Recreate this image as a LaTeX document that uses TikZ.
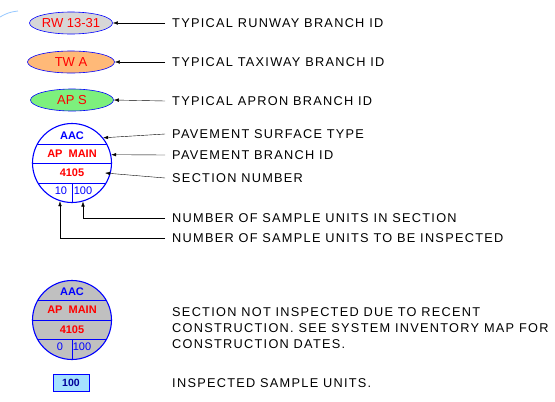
\documentclass[tikz,border=0pt]{standalone}
\usepackage{fontspec}
\setmainfont{Liberation Sans}
\newfontfamily\cadfont[LetterSpace=10]{Liberation Sans}
\usetikzlibrary{arrows.meta,shapes.geometric}
\definecolor{rwgray}{RGB}{215,215,215}
\definecolor{tworange}{RGB}{255,185,120}
\definecolor{apgreen}{RGB}{125,240,125}
\definecolor{secgray}{RGB}{192,192,192}
\definecolor{boxblue}{RGB}{165,225,255}
\definecolor{arcblue}{RGB}{150,200,255}

\begin{document}
\begin{tikzpicture}[x=1pt, y=-1pt, >={Latex[length=5pt,width=3.5pt]},
	br/.style={draw=blue, semithick, ellipse, minimum width=83pt, minimum height=22pt, inner sep=0pt, text=red, font=\fontsize{13}{14}\selectfont},
	lbl/.style={anchor=west, inner xsep=7pt, inner ysep=0pt, align=left, font=\cadfont\fontsize{12.75}{16}\selectfont},
	sec/.style={draw=blue, line width=1.1pt, circle, minimum size=79pt, inner sep=0pt},
	cell/.style={inner sep=0pt, font=\bfseries\fontsize{11}{12}\selectfont},
	unit/.style={inner sep=0pt, text=blue, font=\fontsize{11}{12}\selectfont}]
	\useasboundingbox (0,0) rectangle (555,402);
	\draw[arcblue, line width=0.8pt] (0,17) to[bend left=12] (18,11);
	% branch ids
	\node[br, fill=rwgray] (rw) at (71,23) {RW 13-31};
	\node[br, fill=tworange, minimum width=87pt] (tw) at (71,62) {TW A};
	\node[br, fill=apgreen] (ap) at (72,100) {AP S};
	\node[lbl] (rwl) at (165,23) {TYPICAL RUNWAY BRANCH ID};
	\node[lbl] (twl) at (165,62) {TYPICAL TAXIWAY BRANCH ID};
	\node[lbl] (apl) at (165,101) {TYPICAL APRON BRANCH ID};
	\draw[->] (rwl.west) -- (rw.east);
	\draw[->] (twl.west) -- (tw.east);
	\draw[->] (apl.west) -- (ap.east);
	% section symbol
	\node[sec] (pci) at (72,163) {};
	\begin{scope}
		\clip (pci.center) circle[radius=39.5pt];
		\draw[blue, line width=0.9pt] (30,144) -- (115,144) (30,163) -- (115,163) (30,183) -- (115,183) (72,183) -- (72,205);
	\end{scope}
	\node[cell, text=blue] (aac) at (72,136) {AAC};
	\node[cell, text=red] (bid) at (72,154) {AP\ \ MAIN};
	\node[cell, text=red] (num) at (72,173) {4105};
	\node[unit] (ins) at (61,191) {10};
	\node[unit] (tot) at (83,191) {100};
	\node[lbl] (pstl) at (165,134) {PAVEMENT SURFACE TYPE};
	\node[lbl] (pbil) at (165,155) {PAVEMENT BRANCH ID};
	\node[lbl] (snl) at (165,178) {SECTION NUMBER};
	\node[lbl] (totl) at (165,218) {NUMBER OF SAMPLE UNITS IN SECTION};
	\node[lbl] (insl) at (165,238) {NUMBER OF SAMPLE UNITS TO BE INSPECTED};
	\coordinate (numtip) at (105,173);
	\coordinate (tottip) at (83,201.5);
	\coordinate (instip) at (60,201.2);
	\draw[->] (pstl.west) -- (pci.39);
	\draw[->] (pbil.west) -- (pci.12);
	\draw[->] (snl.west) -- (numtip);
	\draw[->] (totl.west) -| (tottip);
	\draw[->] (insl.west) -| (instip);
	% not inspected
	\node[sec, fill=secgray] (pcx) at (72,320) {};
	\begin{scope}
		\clip (pcx.center) circle[radius=39.5pt];
		\draw[blue, line width=0.9pt] (30,300) -- (115,300) (30,320) -- (115,320) (30,339) -- (115,339) (72,339) -- (72,362);
	\end{scope}
	\node[cell, text=blue] (aacx) at (72,292) {AAC};
	\node[cell, text=red] (bidx) at (72,310) {AP\ \ MAIN};
	\node[cell, text=red] (numx) at (72,330) {4105};
	\node[unit] (insx) at (60,347) {0};
	\node[unit] (totx) at (82,347) {100};
	\node[lbl] (nil) at (165,328) {SECTION NOT INSPECTED DUE TO RECENT\\CONSTRUCTION. SEE SYSTEM INVENTORY MAP FOR\\CONSTRUCTION DATES.};
	% sample unit
	\node[draw=blue, fill=boxblue, minimum width=36pt, minimum height=17pt, inner sep=0pt, text=blue!60!black, font=\bfseries\fontsize{10.5}{12}\selectfont] (su) at (71,383) {100};
	\node[lbl] (sul) at (165,383) {INSPECTED SAMPLE UNITS.};
\end{tikzpicture}
\end{document}
